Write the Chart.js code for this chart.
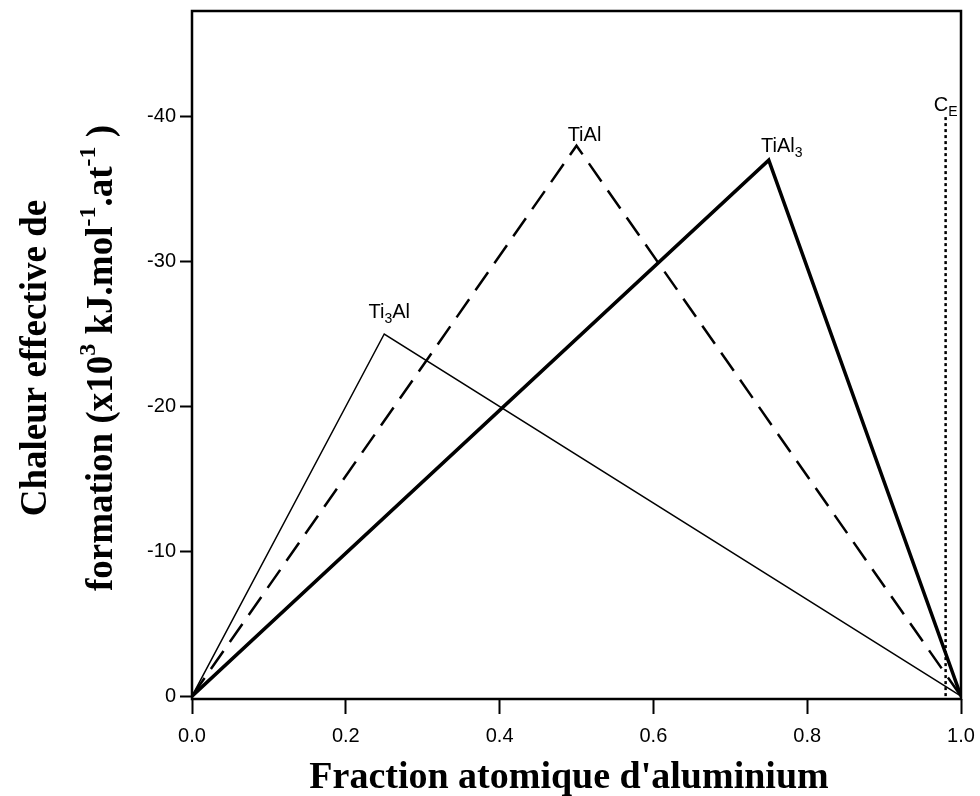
<!DOCTYPE html>
<html><head><meta charset="utf-8">
<script src="https://cdn.jsdelivr.net/npm/chart.js@4/dist/chart.umd.min.js"></script>
<style>html,body{margin:0;padding:0;background:#fff}</style>
</head><body>
<canvas id="c" width="980" height="796"></canvas>
<script>
// ---- data ----
const xTicks = [0, 0.2, 0.4, 0.6, 0.8, 1.0];
const yTicks = [-40, -30, -20, -10, 0];
const ti3alX = [0, 0.25, 1];
const ti3alY = [0, -25, 0];
const tialX = [0, 0.5, 1];
const tialY = [0, -38, 0];
const tial3X = [0, 0.75, 1];
const tial3Y = [0, -37, 0];
const ceX = [0.98, 0.98];
const ceY = [0, -40];
// label parts: [text, 0=normal / 1=subscript]
const ti3alLabel = [["Ti",0],["3",1],["Al",0]];
const tialLabel = [["TiAl",0]];
const tial3Label = [["TiAl",0],["3",1]];
const ceLabel = [["C",0],["E",1]];
const xTitle = "Fraction atomique d'aluminium";
const yTitle1 = "Chaleur effective de";
// [text, 0=normal / 1=superscript]
const yTitle2 = [["formation (x10",0],["3",1],[" kJ.mol",0],["-1",1],[".at",0],["-1",1],[" )",0]];

const mk = (xs, ys) => xs.map((x, i) => ({x: x, y: ys[i]}));

const SANS = '"Liberation Sans", Arial, sans-serif';
const SERIF = '"Liberation Serif", "Times New Roman", serif';

function drawParts(ctx, parts, cx, baseY, size, smallSize, shift) {
  let w = 0;
  parts.forEach(p => {
    ctx.font = (p[1] ? smallSize : size);
    w += ctx.measureText(p[0]).width;
  });
  let x = cx - w / 2;
  ctx.textAlign = 'left';
  ctx.textBaseline = 'alphabetic';
  parts.forEach(p => {
    ctx.font = (p[1] ? smallSize : size);
    ctx.fillText(p[0], x, baseY + (p[1] ? shift : 0));
    x += ctx.measureText(p[0]).width;
  });
}

const framePlugin = {
  id: 'frame',
  afterDatasetsDraw(chart) {
    const {ctx, chartArea: a} = chart;
    ctx.save();
    ctx.strokeStyle = '#000';
    ctx.lineWidth = 2.5;
    ctx.strokeRect(a.left, a.top, a.right - a.left, a.bottom - a.top);
    ctx.restore();
  }
};

const labelPlugin = {
  id: 'labels',
  afterDatasetsDraw(chart) {
    const {ctx} = chart;
    const xs = chart.scales.x, ys = chart.scales.y;
    ctx.save();
    ctx.fillStyle = '#000';
    const items = [
      [ti3alLabel, ti3alX[1], ti3alY[1], 5, -16],
      [tialLabel, tialX[1], tialY[1], 8, -5],
      [tial3Label, tial3X[1], tial3Y[1], 13, -8],
      [ceLabel, ceX[1], ceY[1], 0, -6]
    ];
    items.forEach(it => {
      const px = xs.getPixelForValue(it[1]) + it[3];
      const py = ys.getPixelForValue(it[2]) + it[4];
      drawParts(ctx, it[0], px, py, '20px ' + SANS, '14px ' + SANS, 5);
    });
    ctx.restore();
  }
};

const titlePlugin = {
  id: 'titles',
  afterDraw(chart) {
    const {ctx} = chart;
    ctx.save();
    ctx.fillStyle = '#000';
    ctx.font = 'bold 38px ' + SERIF;
    ctx.textAlign = 'center';
    ctx.textBaseline = 'alphabetic';
    ctx.fillText(xTitle, 569, 788);
    ctx.save();
    ctx.translate(46, 358);
    ctx.rotate(-Math.PI / 2);
    ctx.font = 'bold 37px ' + SERIF;
    ctx.textAlign = 'center';
    ctx.fillText(yTitle1, 0, 0);
    ctx.restore();
    ctx.save();
    ctx.translate(112, 358);
    ctx.rotate(-Math.PI / 2);
    drawParts(ctx, yTitle2, 0, 0, 'bold 37px ' + SERIF, 'bold 24px ' + SERIF, -17);
    ctx.restore();
    ctx.restore();
  }
};

new Chart(document.getElementById('c').getContext('2d'), {
  type: 'line',
  data: {
    datasets: [
      {label: 'Ti3Al', data: mk(ti3alX, ti3alY), borderColor: '#000', borderWidth: 1.5, pointRadius: 0, fill: false, tension: 0},
      {label: 'TiAl', data: mk(tialX, tialY), borderColor: '#000', borderWidth: 2.5, borderDash: [22, 11], pointRadius: 0, fill: false, tension: 0},
      {label: 'TiAl3', data: mk(tial3X, tial3Y), borderColor: '#000', borderWidth: 3.5, pointRadius: 0, fill: false, tension: 0},
      {label: 'CE', data: mk(ceX, ceY), borderColor: '#000', borderWidth: 2.5, borderDash: [3, 3], pointRadius: 0, fill: false, tension: 0}
    ]
  },
  options: {
    responsive: false,
    animation: false,
    layout: {padding: {left: 0, top: 11, right: 19, bottom: 0}},
    plugins: {legend: {display: false}, tooltip: {enabled: false}},
    scales: {
      x: {
        type: 'linear', min: 0, max: 1,
        afterBuildTicks: s => { s.ticks = xTicks.map(v => ({value: v})); },
        afterFit: s => { s.height = 97; s.paddingLeft = 0; s.paddingRight = 0; },
        border: {display: false},
        grid: {drawOnChartArea: false, drawTicks: true, tickLength: 15, tickColor: '#000', tickWidth: 2},
        ticks: {color: '#000', font: {family: SANS, size: 20}, padding: 10, maxRotation: 0, autoSkip: false,
                callback: v => Number(v).toFixed(1)}
      },
      y: {
        type: 'linear', reverse: true, min: -47.3, max: 0.2,
        afterBuildTicks: s => { s.ticks = yTicks.map(v => ({value: v})); },
        afterFit: s => { s.width = 192; s.paddingTop = 0; s.paddingBottom = 0; },
        border: {display: false},
        grid: {drawOnChartArea: false, drawTicks: true, tickLength: 12, tickColor: '#000', tickWidth: 2},
        ticks: {color: '#000', font: {family: SANS, size: 20}, padding: 4, autoSkip: false,
                callback: v => String(v)}
      }
    }
  },
  plugins: [framePlugin, labelPlugin, titlePlugin]
});
</script>
</body></html>
